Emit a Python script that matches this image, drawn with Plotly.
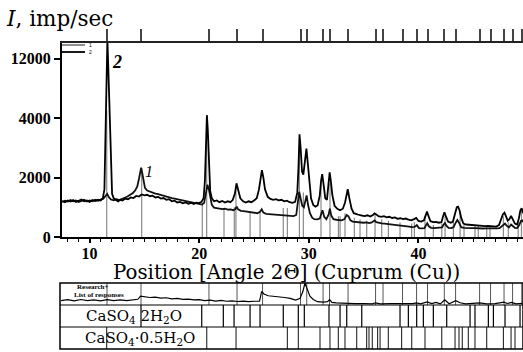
import plotly.graph_objects as go

W, H = 523, 352

# ---------------- data ----------------
# curve 2 (tall peak at 11.6) : 2-theta, intensity (imp/sec)
c2_x = [7.5, 7.75, 8.0, 8.25, 8.5, 8.75, 9.0, 9.25, 9.5, 9.75, 10.0, 10.25, 10.5, 10.75, 11.0, 11.2, 11.35, 11.45,
        11.55, 11.62, 11.7, 11.78, 11.86, 11.95, 12.05, 12.2, 12.4, 12.6, 12.8, 13.0, 13.25, 13.5, 13.75, 14.0, 14.25,
        14.5, 14.75, 15.0, 15.25, 15.5, 15.75, 16.0, 16.25, 16.5, 16.75, 17.0, 17.25, 17.5, 17.75, 18.0, 18.25, 18.5,
        18.75, 19.0, 19.25, 19.5, 19.75, 20.0, 20.2, 20.4, 20.52, 20.62, 20.7, 20.78, 20.88, 21.0, 21.15, 21.35, 21.6,
        21.85, 22.1, 22.35, 22.6, 22.85, 23.05, 23.25, 23.4, 23.55, 23.75, 24.0, 24.25, 24.5, 24.75, 25.0, 25.25, 25.45,
        25.6, 25.72, 25.85, 26.0, 26.25, 26.5, 26.75, 27.0, 27.25, 27.5, 27.75, 28.0, 28.25, 28.5, 28.75, 28.95, 29.05,
        29.15, 29.25, 29.38, 29.5, 29.65, 29.78, 29.9, 30.05, 30.2, 30.4, 30.6, 30.8, 31.0, 31.12, 31.22, 31.35, 31.5,
        31.65, 31.78, 31.9, 32.0, 32.15, 32.35, 32.6, 32.85, 33.1, 33.3, 33.45, 33.55, 33.7, 33.9, 34.1, 34.35, 34.6,
        34.85, 35.1, 35.35, 35.6, 35.85, 36.0, 36.15, 36.35, 36.6, 36.85, 37.1, 37.35, 37.6, 37.85, 38.1, 38.35, 38.6,
        38.85, 39.1, 39.35, 39.6, 39.8, 40.0, 40.25, 40.5, 40.65, 40.78, 40.92, 41.1, 41.35, 41.6, 41.85, 42.1, 42.25,
        42.37, 42.5, 42.7, 42.95, 43.15, 43.35, 43.5, 43.62, 43.75, 43.9, 44.1, 44.35, 44.6, 44.85, 45.1, 45.35, 45.6,
        45.85, 46.1, 46.35, 46.6, 46.85, 47.1, 47.35, 47.55, 47.7, 47.85, 48.0, 48.15, 48.3, 48.45, 48.6, 48.8, 49.0,
        49.15, 49.3, 49.42, 49.55]
c2_y = [1210, 1170, 1230, 1190, 1240, 1180, 1220, 1260, 1200, 1230, 1180, 1240, 1210, 1250, 1230, 1300, 1600, 3500,
        9500, 14500, 11000, 6500, 3200, 1900, 1450, 1300, 1240, 1200, 1250, 1230, 1290, 1270, 1330, 1310, 1380,
        1360, 1430, 1400, 1420, 1370, 1390, 1330, 1350, 1290, 1310, 1250, 1270, 1200, 1220, 1160, 1180, 1130,
        1160, 1120, 1150, 1110, 1150, 1140, 1180, 1300, 1900, 3300, 4380, 3600, 2300, 1550, 1300, 1200, 1230,
        1170, 1210, 1160, 1200, 1170, 1240, 1450, 1805, 1550, 1300, 1200, 1160, 1200, 1170, 1230, 1300, 1600,
        2050, 2250, 2000, 1600, 1350, 1280, 1250, 1270, 1230, 1250, 1200, 1220, 1170, 1150, 1180, 1500, 2300,
        3450, 3000, 2200, 2100, 2600, 2970, 2500, 1800, 1300, 1080, 1020, 1060, 1400, 1900, 2115, 1750, 1300,
        1250, 1700, 2170, 1900, 1400, 1050, 950, 900, 950, 1150, 1500, 1605, 1300, 950, 800, 760, 740,
        720, 700, 730, 690, 740, 795, 760, 700, 680, 700, 660, 680, 640, 660, 610, 630, 600,
        620, 580, 560, 600, 640, 540, 520, 560, 700, 852, 700, 530, 500, 510, 480, 500, 700,
        830, 700, 520, 480, 520, 800, 1000, 1020, 900, 650, 450, 420, 410, 400, 390, 380, 390,
        370, 365, 370, 355, 350, 350, 400, 600, 760, 817, 700, 550, 600, 705, 600, 450, 420,
        600, 900, 965, 800]

# curve 1 (peak at 14.7)
c1_x = [7.5, 7.75, 8.0, 8.25, 8.5, 8.75, 9.0, 9.25, 9.5, 9.75, 10.0, 10.25, 10.5, 10.75, 11.0, 11.25, 11.45, 11.6,
        11.75, 11.95, 12.2, 12.45, 12.7, 12.95, 13.2, 13.45, 13.7, 13.95, 14.15, 14.35, 14.5, 14.62, 14.7, 14.8, 14.92,
        15.05, 15.25, 15.5, 15.75, 16.0, 16.25, 16.5, 16.75, 17.0, 17.25, 17.5, 17.75, 18.0, 18.25, 18.5, 18.75, 19.0,
        19.25, 19.5, 19.75, 20.0, 20.25, 20.45, 20.6, 20.75, 20.88, 21.0, 21.15, 21.35, 21.6, 21.85, 22.1, 22.35, 22.6,
        22.85, 23.1, 23.3, 23.42, 23.55, 23.8, 24.05, 24.3, 24.55, 24.8, 25.05, 25.3, 25.55, 25.7, 25.85, 26.1, 26.35,
        26.6, 26.85, 27.1, 27.35, 27.6, 27.85, 28.1, 28.35, 28.6, 28.85, 29.0, 29.12, 29.25, 29.4, 29.55, 29.7, 29.8,
        29.92, 30.1, 30.3, 30.5, 30.75, 31.0, 31.15, 31.25, 31.4, 31.6, 31.8, 31.92, 32.05, 32.25, 32.5, 32.75, 33.0,
        33.25, 33.45, 33.6, 33.8, 34.0, 34.25, 34.5, 34.75, 35.0, 35.25, 35.5, 35.75, 36.0, 36.15, 36.4, 36.65, 36.9,
        37.15, 37.4, 37.65, 37.9, 38.15, 38.4, 38.65, 38.9, 39.15, 39.4, 39.65, 39.85, 40.05, 40.3, 40.55, 40.7, 40.8,
        40.95, 41.15, 41.4, 41.65, 41.9, 42.15, 42.3, 42.42, 42.55, 42.75, 43.0, 43.2, 43.4, 43.55, 43.7, 43.9, 44.15,
        44.4, 44.65, 44.9, 45.15, 45.4, 45.65, 45.9, 46.15, 46.4, 46.65, 46.9, 47.15, 47.4, 47.6, 47.75, 47.9, 48.05,
        48.25, 48.45, 48.6, 48.8, 49.0, 49.2, 49.35, 49.48, 49.55]
c1_y = [1180, 1220, 1190, 1240, 1200, 1230, 1180, 1210, 1250, 1190, 1230, 1200, 1250, 1220, 1260, 1290, 1380, 1450,
        1340, 1260, 1230, 1270, 1240, 1290, 1320, 1360, 1420, 1480, 1560, 1700, 1950, 2250, 2330, 2150, 1850,
        1650, 1560, 1520, 1490, 1460, 1440, 1410, 1390, 1360, 1340, 1310, 1290, 1270, 1250, 1240, 1210, 1200,
        1170, 1150, 1120, 1100, 1090, 1150, 1400, 1760, 1600, 1300, 1080, 990, 965, 950, 940, 950, 920,
        930, 900, 940, 1020, 930, 880, 870, 860, 840, 830, 810, 800, 850, 930, 820, 780, 770,
        760, 750, 745, 740, 730, 725, 720, 710, 700, 740, 1100, 1520, 1300, 1050, 1000, 1300, 1400,
        1100, 800, 650, 600, 590, 620, 800, 900, 680, 600, 750, 950, 720, 600, 580, 570, 560,
        600, 740, 700, 560, 520, 504, 500, 490, 480, 490, 470, 490, 560, 500, 470, 460, 450,
        440, 445, 430, 420, 410, 400, 380, 370, 350, 330, 340, 400, 300, 292, 300, 400, 460,
        360, 310, 300, 310, 300, 320, 420, 470, 380, 310, 300, 330, 480, 570, 480, 330, 310,
        300, 305, 295, 300, 290, 300, 285, 290, 285, 290, 285, 290, 300, 360, 430, 450, 380,
        320, 420, 380, 310, 300, 400, 540, 560, 500]

# reference stick pattern drawn inside the main plot (2-theta, height)
stick_pos = [11.56, 14.75, 20.28, 20.68, 22.26, 23.2, 23.35, 24.64, 25.55, 27.67, 28.04, 29.14, 29.5, 31.11, 31.93,
             32.7, 32.85, 33.3, 34.15, 34.67, 35.28, 36.04, 36.65, 37.26, 38.32, 39.38, 39.63, 40.6, 41.36, 42.13,
             42.43, 43.19, 43.8, 44.16, 45.16, 45.46, 46.23, 46.53, 47.75, 48.2, 49.1, 49.4]
stick_hgt = [5000, 2300, 1075, 4000, 965, 1000, 1700, 850, 850, 975, 975, 3000, 1500, 1800, 1800,
             700, 700, 800, 650, 600, 550, 750, 600, 550, 500, 450, 500, 700, 400, 450,
             700, 500, 850, 400, 380, 380, 350, 350, 700, 500, 600, 900]

# found peak list (top ticks and "Research+" row)
peak_pos = [11.59, 14.69, 20.89, 23.45, 25.78, 29.24, 29.81, 31.30, 31.89, 33.58, 36.09, 36.77, 38.55, 39.83,
            40.83, 42.36, 43.39, 45.58, 46.58, 47.81, 48.59, 49.43]
# CaSO4 2H2O reference lines
gyps_pos = [14.69, 20.23, 22.20, 23.18, 24.64, 25.55, 27.67, 29.04, 29.59, 31.84, 32.85, 33.46, 34.83, 38.32,
            39.08, 39.84, 40.45, 41.36, 42.58, 44.71, 45.16, 46.38, 46.84, 47.90, 49.27]
# CaSO4 0.5H2O reference lines
hemi_pos = [11.56, 20.69, 23.36, 28.04, 29.04, 31.02, 31.93, 32.69, 33.30, 34.37, 35.28, 35.49, 35.79, 36.28,
            36.50, 37.25, 38.47, 39.39, 40.60, 42.13, 43.34, 43.70, 44.00, 44.55, 45.16, 46.23, 47.75, 48.45, 48.81]

# miniature pattern in the "Research+" row (relative height in row)
mini_x = [7.4, 8.0, 8.6, 9.2, 9.8, 10.4, 11.0, 11.6, 12.2, 12.8, 13.4, 14.0, 14.4, 14.65, 15.0, 15.5, 16.0, 16.5,
          17.0, 17.5, 18.0, 18.5, 19.0, 19.5, 20.0, 20.5, 21.0, 21.5, 22.0, 22.5, 23.0, 23.5, 24.0, 24.5, 25.0,
          25.5, 25.7, 25.9, 26.3, 26.8, 27.3, 27.8, 28.3, 28.8, 29.2, 29.45, 29.65, 29.85, 30.1, 30.4, 30.8, 31.3,
          31.7, 31.9, 32.1, 32.5, 33.0, 33.6, 34.2, 35.0, 35.8, 36.1, 36.5, 37.5, 38.5, 39.5, 39.8, 40.2, 40.8,
          41.2, 41.6, 42.0, 42.4, 42.8, 43.4, 43.8, 44.3, 45.0, 45.6, 46.2, 47.0, 47.8, 48.1, 48.5, 48.9, 49.5]
mini_y = [0.2, 0.24, 0.19, 0.25, 0.2, 0.23, 0.19, 0.24, 0.2, 0.23, 0.2, 0.24, 0.26, 0.4, 0.38, 0.34, 0.36, 0.31,
          0.33, 0.28, 0.3, 0.26, 0.27, 0.23, 0.24, 0.2, 0.22, 0.18, 0.21, 0.17, 0.19, 0.16, 0.18, 0.15, 0.17,
          0.17, 0.62, 0.5, 0.42, 0.4, 0.36, 0.34, 0.3, 0.22, 0.3, 0.6, 1.0, 0.7, 0.4, 0.25, 0.15, 0.13,
          0.15, 0.24, 0.12, 0.1, 0.08, 0.07, 0.06, 0.06, 0.05, 0.1, 0.05, 0.06, 0.05, 0.06, 0.1, 0.05, 0.14,
          0.06, 0.12, 0.05, 0.24, 0.06, 0.2, 0.1, 0.05, 0.06, 0.1, 0.05, 0.06, 0.13, 0.07, 0.12, 0.05, 0.08]

y_ticks = [0, 2000, 4000, 12000]
x_ticks = [10, 20, 30, 40]


# ---------------- scale helpers ----------------
def disp(v):
    """broken intensity scale: linear to 4000, compressed 4:1 above"""
    return v if v <= 4000 else 4000 + (v - 4000) / 4.0


def px(x):
    return x / W


def py(y):
    return 1 - y / H


def vlines(pos, h0, h1):
    xs, ys = [], []
    for i, p in enumerate(pos):
        xs += [p, p, None]
        ys += [h0, h1[i] if isinstance(h1, list) else h1, None]
    return xs, ys


X0, X1 = 7.48, 49.54
XT0 = 7.30
YTOP = (237 - 43) / 59.5 * 2000

fig = go.Figure()

sx, sy = vlines(stick_pos, 0, [disp(v) for v in stick_hgt])
fig.add_trace(go.Scatter(x=sx, y=sy, mode="lines", line=dict(color="#8a8a8a", width=1.2),
                         hoverinfo="skip", showlegend=False))
fig.add_trace(go.Scatter(x=c1_x, y=[disp(v) for v in c1_y], mode="lines", name="1",
                         line=dict(color="#111", width=1.8), showlegend=False))
fig.add_trace(go.Scatter(x=c2_x, y=[disp(v) for v in c2_y], mode="lines", name="2",
                         line=dict(color="#000", width=1.8), showlegend=False))
# dummy trace to activate top axis
fig.add_trace(go.Scatter(x=[X0], y=[None], xaxis="x2", yaxis="y", showlegend=False, hoverinfo="skip"))

# table rows
r1x, r1y = vlines(peak_pos, 0, 1)
fig.add_trace(go.Scatter(x=r1x, y=r1y, xaxis="x3", yaxis="y3", mode="lines",
                         line=dict(color="#555", width=1), hoverinfo="skip", showlegend=False))
fig.add_trace(go.Scatter(x=mini_x, y=mini_y, xaxis="x3", yaxis="y3", mode="lines",
                         line=dict(color="#000", width=1.2), hoverinfo="skip", showlegend=False))
r2x, r2y = vlines(gyps_pos, 0, 1)
fig.add_trace(go.Scatter(x=r2x, y=r2y, xaxis="x3", yaxis="y4", mode="lines",
                         line=dict(color="#000", width=1.2), hoverinfo="skip", showlegend=False))
r3x, r3y = vlines(hemi_pos, 0, 1)
fig.add_trace(go.Scatter(x=r3x, y=r3y, xaxis="x3", yaxis="y5", mode="lines",
                         line=dict(color="#111", width=1), hoverinfo="skip", showlegend=False))

tickfont = dict(family="Liberation Serif", size=16, color="black", weight="bold")

fig.update_layout(
    width=W, height=H, margin=dict(l=0, r=0, t=0, b=0, autoexpand=False),
    paper_bgcolor="white", plot_bgcolor="white", showlegend=False,
    xaxis=dict(domain=[px(62), 1], range=[X0, X1], anchor="y", showline=True, linecolor="black", linewidth=2,
               ticks="outside", ticklen=4, tickwidth=1.5, tickcolor="black", tickvals=x_ticks,
               tickfont=tickfont, showgrid=False, zeroline=False, automargin=False, ticklabelstandoff=-3,
               minor=dict(dtick=1, ticks="outside", ticklen=3, tickcolor="black", tickwidth=1)),
    xaxis2=dict(overlaying="x", side="top", anchor="y", range=[X0, X1], showline=True, linecolor="#222",
                linewidth=2, ticks="outside", ticklen=12, tickwidth=1.5, tickcolor="#444", automargin=False,
                tickvals=peak_pos, showticklabels=False, showgrid=False, zeroline=False),
    yaxis=dict(domain=[py(237), py(43)], range=[0, YTOP], anchor="x", showline=True, linecolor="black",
               linewidth=2, ticks="outside", ticklen=6, tickwidth=1.5, tickcolor="black", automargin=False,
               tickvals=[disp(v) for v in y_ticks], ticktext=[str(v) for v in y_ticks],
               tickfont=tickfont, showgrid=False, zeroline=False),
    xaxis3=dict(domain=[px(60), 1], range=[XT0, X1], anchor="y5", visible=False),
    yaxis3=dict(domain=[py(305), py(283)], range=[0, 1], anchor="x3", visible=False),
    yaxis4=dict(domain=[py(327), py(305)], range=[0, 1], anchor="x3", visible=False),
    yaxis5=dict(domain=[py(349), py(327)], range=[0, 1], anchor="x3", visible=False),
)

shapes = [
    dict(type="rect", xref="paper", yref="paper", x0=px(60), x1=px(523), y0=py(349), y1=py(283),
         line=dict(color="black", width=1.5)),
    dict(type="line", xref="paper", yref="paper", x0=px(60), x1=px(523), y0=py(305), y1=py(305),
         line=dict(color="black", width=1.2)),
    dict(type="line", xref="paper", yref="paper", x0=px(60), x1=px(523), y0=py(327), y1=py(327),
         line=dict(color="black", width=1.2)),
    # legend swatches
    dict(type="line", xref="paper", yref="paper", x0=px(62), x1=px(85), y0=py(45), y1=py(45),
         line=dict(color="#444", width=1.2)),
    dict(type="line", xref="paper", yref="paper", x0=px(62), x1=px(85), y0=py(52), y1=py(52),
         line=dict(color="#000", width=1.8)),
]
fig.update_layout(shapes=shapes)

serif = "DejaVu Serif"
ann = [
    dict(text="<i>I</i>, imp/sec", x=px(4), y=py(18), xanchor="left", yanchor="middle",
         font=dict(family=serif, size=21.5, color="black")),
    dict(text="Position [Angle 2Θ] (Cuprum (Cu))", x=px(286), y=py(272), xanchor="center", yanchor="middle",
         font=dict(family=serif, size=19.8, color="black")),
    dict(text="<i>2</i>", x=px(117), y=py(62), xanchor="center", yanchor="middle",
         font=dict(family="Liberation Serif", size=18, color="black", weight="bold")),
    dict(text="<i>1</i>", x=px(149), y=py(171), xanchor="center", yanchor="middle",
         font=dict(family="Liberation Serif", size=16, color="black")),
    dict(text="Research+", x=px(92), y=py(286.5), xanchor="center", yanchor="middle",
         font=dict(family="Liberation Serif", size=7, color="black", weight="bold")),
    dict(text="List of responses", x=px(99), y=py(294.5), xanchor="center", yanchor="middle",
         font=dict(family="Liberation Serif", size=7, color="black", weight="bold")),
    dict(text="CaSO<sub>4</sub> 2H<sub>2</sub>O", x=px(134), y=py(316), xanchor="center", yanchor="middle",
         font=dict(family=serif, size=15, color="black")),
    dict(text="CaSO<sub>4</sub>·0.5H<sub>2</sub>O", x=px(140), y=py(338), xanchor="center", yanchor="middle",
         font=dict(family=serif, size=15, color="black")),
    dict(text="1", x=px(87), y=py(45), xanchor="left", yanchor="middle",
         font=dict(family="Liberation Sans", size=5, color="black")),
    dict(text="2", x=px(87), y=py(52), xanchor="left", yanchor="middle",
         font=dict(family="Liberation Sans", size=5, color="black")),
]
for a in ann:
    a.update(xref="paper", yref="paper", showarrow=False)
fig.update_layout(annotations=ann)

fig.write_html("out.html", config={"displayModeBar": False},
               post_script="document.body.style.margin='0';document.body.style.overflow='hidden';")
